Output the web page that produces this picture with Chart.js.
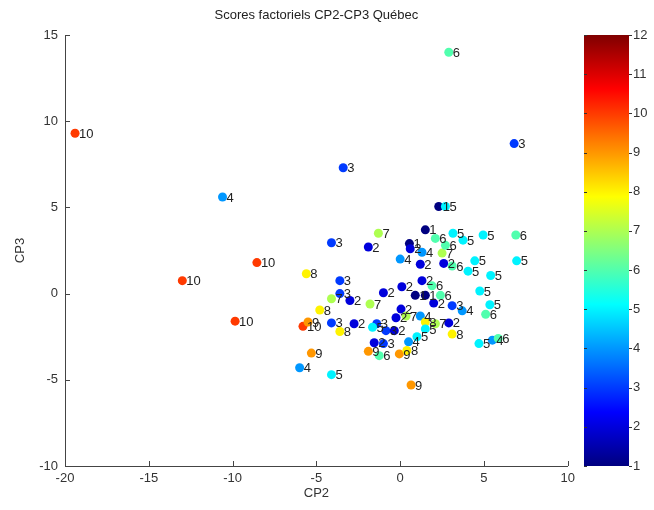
<!DOCTYPE html>
<html>
<head>
<meta charset="utf-8">
<script src="https://cdn.jsdelivr.net/npm/chart.js@4.4.1/dist/chart.umd.min.js"></script>
<style>
  body { margin: 0; background: #fff; }
  #wrap { position: relative; width: 654px; height: 510px; }
  #main { position: absolute; left: 0; top: 0; }
  #barre { position: absolute; left: 570px; top: 0; }
</style>
</head>
<body>
<div id="wrap">
  <canvas id="main" width="580" height="510"></canvas>
  <canvas id="barre" width="84" height="510"></canvas>
</div>
<script>
// scores CP2 / CP3 et groupe (1..12) de chaque point
var cp2 = [-19.4, -10.6, -8.55, -13.0, -9.85, 2.9, 6.8, -3.4, 2.3, 2.7,
           1.5, -1.3, -4.1, -1.9, 3.15, 2.1, 3.75, 4.95, 6.9, 0.55,
           0.6, 1.3, 2.5, 2.7, 0.0, 1.2, 2.6, 3.1, 4.45, 4.05,
           5.4, 6.95, -5.6, -3.6, -3.6, -4.1, -3.0, -1.0, 0.1, 1.3,
           1.9, 0.9, 1.5, 2.4, 4.75, 5.35, -4.8, -1.8, 2.0, 3.1,
           3.7, 5.1, 0.05, -0.25, 0.35, 1.2, -5.8, -5.5, -4.1, -3.6,
           -2.75, -1.4, -0.85, -1.65, -0.35, 1.5, 1.5, 2.1, 2.9, 3.1,
           1.0, 0.5, 4.7, 5.5, 5.85, -1.55, -1.9, -1.25, -0.05, -5.3,
           -6.0, -4.1, 0.65, -1.0, 0.4];
var cp3 = [9.3, 5.6, 1.8, 0.75, -1.6, 14.0, 8.7, 7.3, 5.05, 5.05,
           3.7, 3.5, 2.95, 2.7, 3.5, 3.2, 3.1, 3.4, 3.4, 2.9,
           2.6, 2.4, 2.35, 2.8, 2.0, 1.7, 1.75, 1.6, 1.9, 1.3,
           1.05, 1.9, 1.15, 0.75, 0.0, -0.3, -0.4, 0.05, 0.4, 0.75,
           0.45, -0.1, -0.1, -0.1, 0.15, -0.65, -0.95, -0.6, -0.55, -0.7,
           -1.0, -1.2, -0.9, -1.4, -1.3, -1.3, -1.9, -1.65, -1.7, -2.2,
           -1.75, -1.75, -2.15, -1.95, -2.15, -1.65, -2.05, -1.75, -1.7, -2.35,
           -2.5, -2.8, -2.9, -2.7, -2.6, -2.85, -3.35, -3.6, -3.5, -3.45,
           -4.3, -4.7, -5.3, -2.9, -3.3];
var groupe = [10, 4, 10, 10, 10, 6, 3, 3, 1, 5,
              1, 7, 3, 2, 5, 6, 5, 5, 6, 1,
              2, 4, 7, 6, 4, 2, 2, 6, 5, 5,
              5, 5, 8, 3, 3, 7, 2, 2, 2, 2,
              6, 1, 1, 6, 5, 5, 8, 7, 2, 3,
              4, 6, 2, 2, 7, 4, 10, 9, 3, 8,
              2, 3, 3, 5, 2, 8, 5, 7, 2, 8,
              5, 4, 5, 4, 6, 2, 9, 6, 9, 9,
              4, 5, 9, 3, 8];
var xTicks = [-20, -15, -10, -5, 0, 5, 10];
var yTicks = [-10, -5, 0, 5, 10, 15];
var barreTicks = [1, 2, 3, 4, 5, 6, 7, 8, 9, 10, 11, 12];

var police = '"Liberation Sans", Arial, sans-serif';

// palette jet (MATLAB) entre 1 et 12
function jet(v) {
  var t = (v - 1) / 11;
  function c(a) { return Math.round(255 * Math.max(0, Math.min(1, a))); }
  return 'rgb(' + c(1.5 - Math.abs(4 * t - 3)) + ',' + c(1.5 - Math.abs(4 * t - 2)) + ',' + c(1.5 - Math.abs(4 * t - 1)) + ')';
}

var points = cp2.map(function (x, i) { return { x: x, y: cp3[i] }; });

var etiquettes = {
  id: 'etiquettes',
  afterDatasetsDraw: function (chart) {
    var ctx = chart.ctx;
    var meta = chart.getDatasetMeta(0);
    ctx.save();
    ctx.font = '13px ' + police;
    ctx.fillStyle = '#222';
    ctx.textBaseline = 'middle';
    meta.data.forEach(function (pt, i) {
      ctx.fillText(String(groupe[i]), pt.x + 4, pt.y + 1);
    });
    ctx.restore();
  },
  afterDraw: function (chart) {
    // petites graduations vers l'interieur, comme matlab
    var ctx = chart.ctx, a = chart.chartArea;
    var xs = chart.scales.x, ys = chart.scales.y;
    ctx.save();
    ctx.strokeStyle = '#444';
    ctx.lineWidth = 1;
    ctx.beginPath();
    xTicks.forEach(function (v) {
      var p = Math.round(xs.getPixelForValue(v)) + 0.5;
      ctx.moveTo(p, a.bottom); ctx.lineTo(p, a.bottom - 5);
    });
    yTicks.forEach(function (v) {
      var p = Math.round(ys.getPixelForValue(v)) + 0.5;
      ctx.moveTo(a.left, p); ctx.lineTo(a.left + 5, p);
    });
    ctx.stroke();
    // titre centre sur la zone du graphe
    ctx.font = '13px ' + police;
    ctx.fillStyle = '#222';
    ctx.textAlign = 'center';
    ctx.textBaseline = 'middle';
    ctx.fillText('Scores factoriels CP2-CP3 Québec', (a.left + a.right) / 2, 15);
    ctx.restore();
  }
};

new Chart(document.getElementById('main'), {
  type: 'scatter',
  data: {
    datasets: [{
      data: points,
      pointBackgroundColor: groupe.map(jet),
      pointBorderWidth: 0,
      pointRadius: 4.5,
      pointHoverRadius: 4.5
    }]
  },
  options: {
    responsive: false,
    animation: false,
    layout: { padding: { top: 35, right: 0, left: 0, bottom: 0 } },
    plugins: { legend: { display: false }, tooltip: { enabled: false } },
    scales: {
      x: {
        type: 'linear', min: -20, max: 10,
        afterBuildTicks: function (s) { s.ticks = xTicks.map(function (v) { return { value: v }; }); },
        afterFit: function (s) { s.height = 44; },
        ticks: { color: '#333', font: { family: police, size: 13 }, padding: 5 },
        grid: { display: false, drawTicks: false, tickLength: 0 },
        border: { display: true, color: '#444' },
        title: { display: true, text: 'CP2', color: '#333', font: { family: police, size: 13 }, padding: { top: 0, bottom: 9 } }
      },
      y: {
        type: 'linear', min: -10, max: 15,
        afterBuildTicks: function (s) { s.ticks = yTicks.map(function (v) { return { value: v }; }); },
        afterFit: function (s) { s.width = 65; },
        ticks: { color: '#333', font: { family: police, size: 13 }, padding: 7 },
        grid: { display: false, drawTicks: false, tickLength: 0 },
        border: { display: true, color: '#444' },
        title: { display: true, text: 'CP3', color: '#333', font: { family: police, size: 13 }, padding: { top: 13, bottom: 0 } }
      }
    }
  },
  plugins: [etiquettes]
});

// barre de couleurs
var degrade = {
  id: 'degrade',
  beforeDatasetsDraw: function (chart) {
    var ctx = chart.ctx, a = chart.chartArea, ys = chart.scales.y;
    var y1 = ys.getPixelForValue(1), y12 = ys.getPixelForValue(12);
    var g = ctx.createLinearGradient(0, y1, 0, y12);
    for (var k = 0; k <= 64; k++) {
      g.addColorStop(k / 64, jet(1 + 11 * k / 64));
    }
    ctx.save();
    ctx.fillStyle = g;
    ctx.fillRect(a.left, y12, a.right - a.left, y1 - y12);
    ctx.strokeStyle = '#333';
    ctx.lineWidth = 1;
    ctx.beginPath();
    barreTicks.forEach(function (v) {
      var p = Math.round(ys.getPixelForValue(v)) + 0.5;
      ctx.moveTo(a.left, p); ctx.lineTo(a.left + 3, p);
      ctx.moveTo(a.right, p); ctx.lineTo(a.right + 3, p);
    });
    ctx.stroke();
    ctx.restore();
  }
};

new Chart(document.getElementById('barre'), {
  type: 'scatter',
  data: { datasets: [] },
  options: {
    responsive: false,
    animation: false,
    layout: { padding: { top: 35, bottom: 44, left: 14, right: 0 } },
    plugins: { legend: { display: false }, tooltip: { enabled: false } },
    scales: {
      x: { display: false, min: 0, max: 1 },
      y: {
        position: 'right', min: 1, max: 12,
        afterBuildTicks: function (s) { s.ticks = barreTicks.map(function (v) { return { value: v }; }); },
        afterFit: function (s) { s.width = 25; },
        ticks: { color: '#333', font: { family: police, size: 13 }, padding: 4 },
        grid: { display: false, drawTicks: false, tickLength: 0 },
        border: { display: false }
      }
    }
  },
  plugins: [degrade]
});
</script>
</body>
</html>
